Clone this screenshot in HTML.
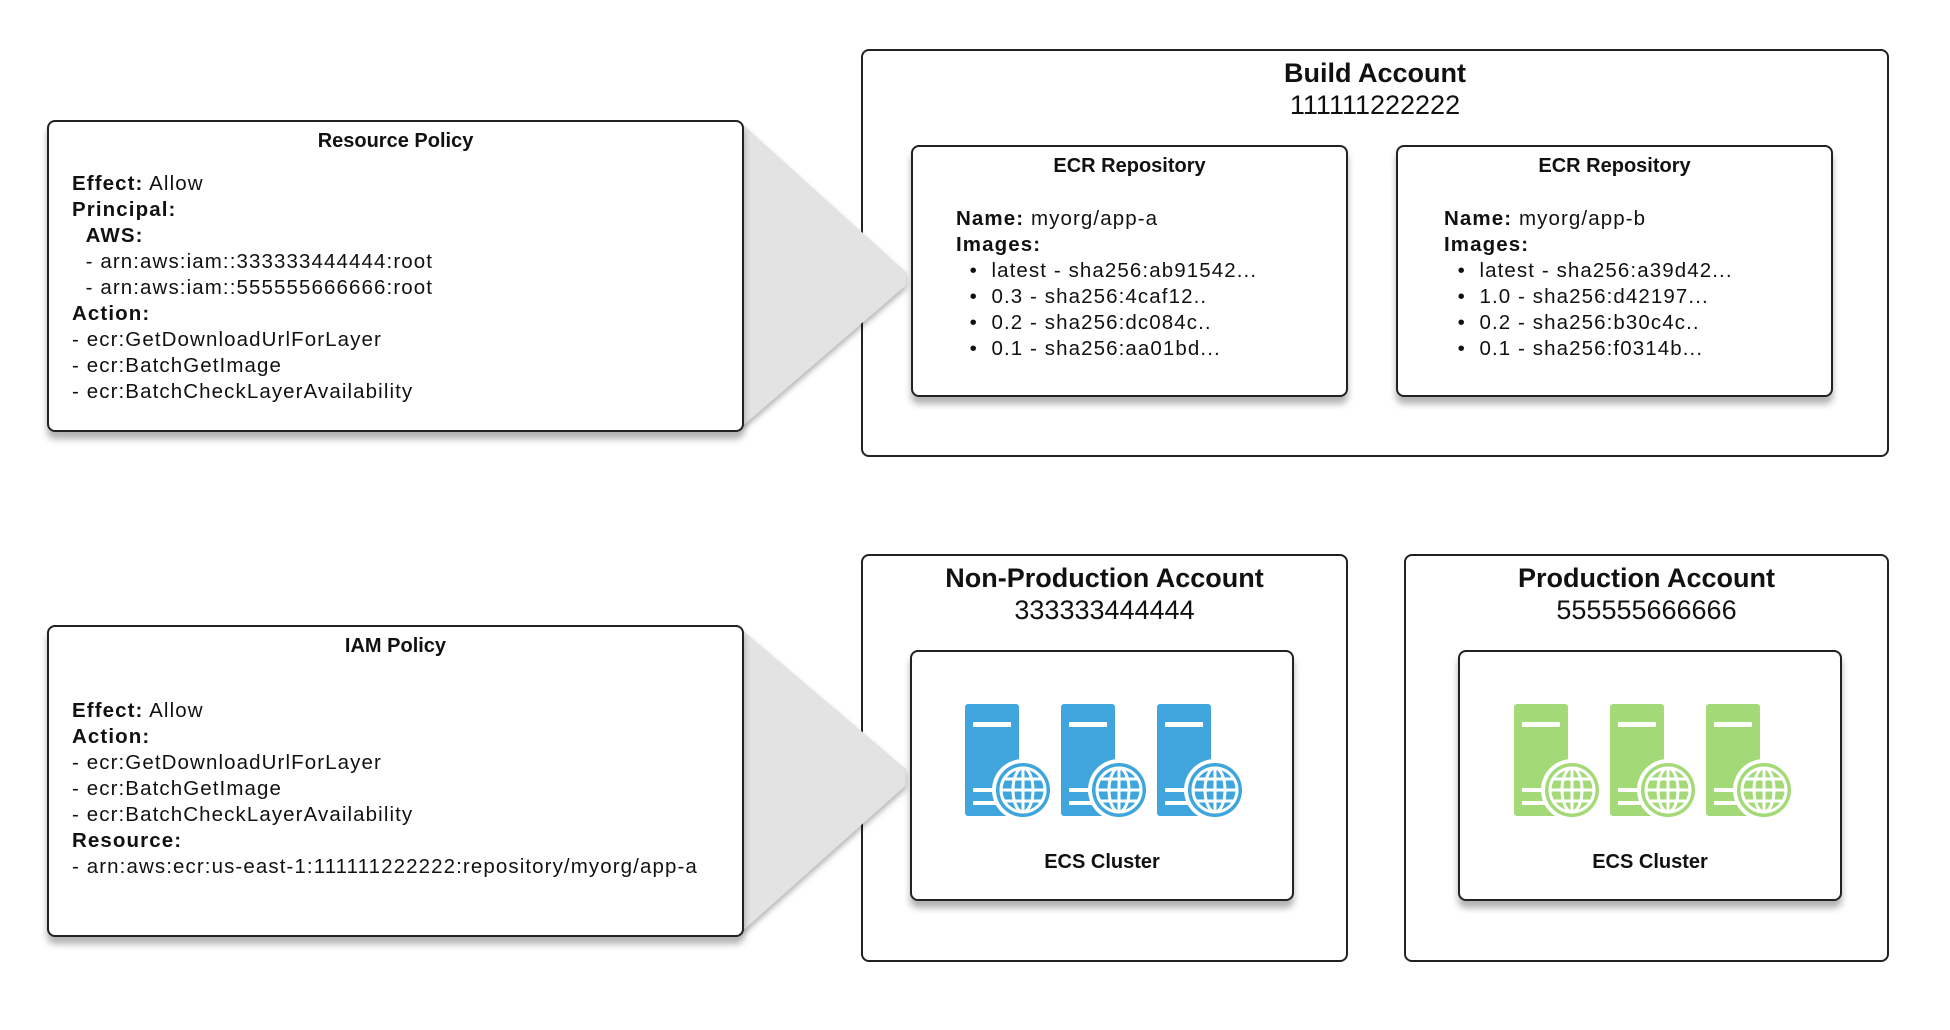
<!DOCTYPE html>
<html><head><meta charset="utf-8"><style>
body{margin:0;width:1950px;height:1030px;background:#fff;position:relative;overflow:hidden;font-family:"Liberation Sans",sans-serif;color:#111}
.b{position:absolute;box-sizing:border-box;border:2px solid #222;border-radius:8px;background:#fff}
.s{box-shadow:0 7px 7px rgba(0,0,0,.3)}
.t{position:absolute;white-space:nowrap;font-size:20px;line-height:26px}
.w{font-size:20.5px;letter-spacing:1.1px}
.c{text-align:center}
b{font-weight:bold}
</style></head><body>
<div class="b" style="left:861px;top:49px;width:1028px;height:408px"></div>
<div class="b" style="left:861px;top:554px;width:487px;height:408px"></div>
<div class="b" style="left:1404px;top:554px;width:485px;height:408px"></div>
<svg width="1950" height="1030" style="position:absolute;left:0;top:0">
<defs><filter id="f" x="-10%" y="-10%" width="130%" height="130%"><feDropShadow dx="0" dy="4" stdDeviation="3" flood-opacity="0.3"/></filter></defs>
<polygon points="740,122 906,272 906,285 740,428" fill="#e3e3e3" filter="url(#f)"/>
<polygon points="740,628 906,769 906,785 740,933" fill="#e3e3e3" filter="url(#f)"/>
</svg>
<div class="t c" style="left:861px;top:57px;width:1028px;font-size:27px;line-height:32px"><b>Build Account</b><br>111111222222</div>
<div class="b s" style="left:911px;top:145px;width:437px;height:252px"></div>
<div class="b s" style="left:1396px;top:145px;width:437px;height:252px"></div>
<div class="t c" style="left:911px;top:153px;width:437px"><b>ECR Repository</b></div>
<div class="t c" style="left:1396px;top:153px;width:437px"><b>ECR Repository</b></div>
<div class="t w" style="left:956px;top:206px"><b>Name:</b> myorg/app-a<br><b>Images:</b><br>&nbsp;&nbsp;•&nbsp;&nbsp;latest - sha256:ab91542...<br>&nbsp;&nbsp;•&nbsp;&nbsp;0.3 - sha256:4caf12..<br>&nbsp;&nbsp;•&nbsp;&nbsp;0.2 - sha256:dc084c..<br>&nbsp;&nbsp;•&nbsp;&nbsp;0.1 - sha256:aa01bd...</div>
<div class="t w" style="left:1444px;top:206px"><b>Name:</b> myorg/app-b<br><b>Images:</b><br>&nbsp;&nbsp;•&nbsp;&nbsp;latest - sha256:a39d42...<br>&nbsp;&nbsp;•&nbsp;&nbsp;1.0 - sha256:d42197...<br>&nbsp;&nbsp;•&nbsp;&nbsp;0.2 - sha256:b30c4c..<br>&nbsp;&nbsp;•&nbsp;&nbsp;0.1 - sha256:f0314b...</div>

<div class="b s" style="left:47px;top:120px;width:697px;height:312px"></div>
<div class="t c" style="left:47px;top:128px;width:697px"><b>Resource Policy</b></div>
<div class="t w" style="left:72px;top:171px"><b>Effect:</b> Allow<br><b>Principal:</b><br>&nbsp;&nbsp;<b>AWS:</b><br>&nbsp;&nbsp;- arn:aws:iam::333333444444:root<br>&nbsp;&nbsp;- arn:aws:iam::555555666666:root<br><b>Action:</b><br>- ecr:GetDownloadUrlForLayer<br>- ecr:BatchGetImage<br>- ecr:BatchCheckLayerAvailability</div>

<div class="b s" style="left:47px;top:625px;width:697px;height:312px"></div>
<div class="t c" style="left:47px;top:633px;width:697px"><b>IAM Policy</b></div>
<div class="t w" style="left:72px;top:698px"><b>Effect:</b> Allow<br><b>Action:</b><br>- ecr:GetDownloadUrlForLayer<br>- ecr:BatchGetImage<br>- ecr:BatchCheckLayerAvailability<br><b>Resource:</b><br>- arn:aws:ecr:us-east-1:111111222222:repository/myorg/app-a</div>

<div class="t c" style="left:861px;top:562px;width:487px;font-size:27px;line-height:32px"><b>Non-Production Account</b><br>333333444444</div>
<div class="t c" style="left:1404px;top:562px;width:485px;font-size:27px;line-height:32px"><b>Production Account</b><br>555555666666</div>
<div class="b s" style="left:910px;top:650px;width:384px;height:251px"></div>
<div class="b s" style="left:1458px;top:650px;width:384px;height:251px"></div>
<div class="t c" style="left:910px;top:849px;width:384px"><b>ECS Cluster</b></div>
<div class="t c" style="left:1458px;top:849px;width:384px"><b>ECS Cluster</b></div>

<svg width="1950" height="1030" style="position:absolute;left:0;top:0">
<defs>
<g id="srv">
<rect x="0" y="0" width="54" height="112" rx="3"/>
<rect x="8" y="18" width="38" height="5" fill="#fff"/>
<rect x="8" y="84" width="40" height="4" fill="#fff"/>
<rect x="8" y="97" width="40" height="4" fill="#fff"/>
<circle cx="58" cy="86" r="31" fill="#fff"/>
<circle cx="58" cy="86" r="27"/>
<g fill="none" stroke="#fff" stroke-width="3">
<circle cx="58" cy="86" r="22"/>
<ellipse cx="58" cy="86" rx="10" ry="22"/>
<line x1="58" y1="64" x2="58" y2="108"/>
<line x1="36" y1="86" x2="80" y2="86"/>
<line x1="40" y1="75" x2="76" y2="75"/>
<line x1="40" y1="97" x2="76" y2="97"/>
</g>
</g>
</defs>
<g fill="#3ea6dc"><use href="#srv" x="965" y="704"/><use href="#srv" x="1061" y="704"/><use href="#srv" x="1157" y="704"/></g>
<g fill="#a3d977"><use href="#srv" x="1514" y="704"/><use href="#srv" x="1610" y="704"/><use href="#srv" x="1706" y="704"/></g>
</svg>
</body></html>
